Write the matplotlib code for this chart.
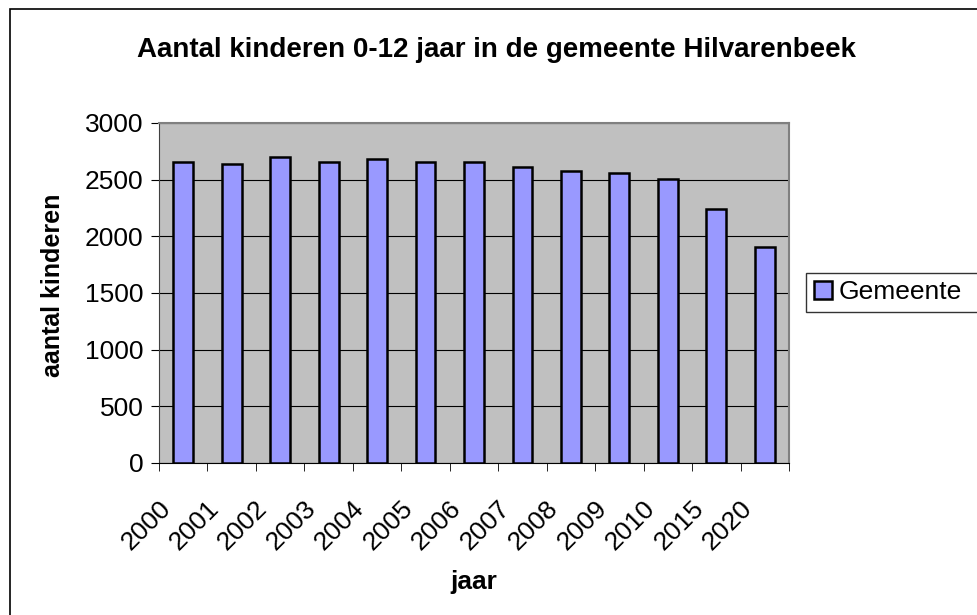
import numpy as np
import matplotlib
matplotlib.use('Agg')
import matplotlib.pyplot as plt
import matplotlib.transforms as mtransforms
from matplotlib.patches import Rectangle

plt.rcParams['font.family'] = ['Liberation Sans', 'DejaVu Sans']

jaren = ['2000', '2001', '2002', '2003', '2004', '2005', '2006',
         '2007', '2008', '2009', '2010', '2015', '2020']
kinderen = [2660, 2640, 2700, 2655, 2680, 2660, 2655,
            2615, 2580, 2555, 2505, 2240, 1905]
yticks = [0, 500, 1000, 1500, 2000, 2500, 3000]

W, H = 977, 615
fig = plt.figure(figsize=(W / 100, H / 100), dpi=100)

# outer chart frame (right and bottom edge fall outside the picture)
fig.patches.append(Rectangle((10 / W, -0.1), 1.2, 1 - 9 / H + 0.1,
                             transform=fig.transFigure, fill=False,
                             edgecolor='black', linewidth=1.2))

ax = fig.add_axes([159 / W, 1 - 463 / H, 630 / W, 340 / H])
ax.set_facecolor('#C0C0C0')

x = np.arange(len(jaren))
bars = ax.bar(x, kinderen, width=0.41, color='#9999FF', edgecolor='black',
              linewidth=1.8, zorder=3, label='Gemeente')

ax.set_xlim(-0.5, len(jaren) - 0.5)
ax.set_ylim(0, 3000)
ax.set_yticks(yticks)
ax.yaxis.grid(True, color='black', linewidth=0.8, zorder=1)
ax.set_axisbelow(True)

for s in ['top', 'right']:
    ax.spines[s].set_color('#808080')
    ax.spines[s].set_linewidth(1.5)
ax.spines['left'].set_color('#404040')
ax.spines['bottom'].set_color('black')

ax.tick_params(axis='y', labelsize=19, length=6, direction='out', pad=5)
ax.set_xticks(x)
ax.set_xticklabels(jaren, rotation=45, ha='right', va='top', fontsize=19)
ax.tick_params(axis='x', which='major', length=0, pad=24)
ax.set_xticks(np.arange(len(jaren) + 1) - 0.5, minor=True)
ax.tick_params(axis='x', which='minor', length=6, direction='out')

shift = mtransforms.ScaledTranslation(-8 / 100, 0, fig.dpi_scale_trans)
for lbl in ax.get_xticklabels():
    lbl.set_transform(lbl.get_transform() + shift)

fig.text(497 / W, 1 - 50 / H, 'Aantal kinderen 0-12 jaar in de gemeente Hilvarenbeek',
         ha='center', va='center', fontsize=20, fontweight='bold')
fig.text(474 / W, 1 - 582 / H, 'jaar', ha='center', va='center',
         fontsize=19, fontweight='bold')
fig.text(53 / W, 1 - 285 / H, 'aantal kinderen', ha='center', va='center',
         rotation=90, fontsize=18, fontweight='bold')

# legend box runs past the right edge of the picture
leg = fig.legend(handles=[bars], labels=['Gemeente'], loc='center left',
                 bbox_to_anchor=(806 / W, 1 - 312 / H, 0.2, 39 / H),
                 mode='expand', fontsize=19,
                 frameon=True, fancybox=False, handlelength=0.7,
                 handleheight=0.7, handletextpad=0.25, borderpad=0.3,
                 borderaxespad=0)
leg.get_frame().set_edgecolor('black')
leg.get_frame().set_linewidth(1.0)

fig.savefig('out.png', dpi=100)
